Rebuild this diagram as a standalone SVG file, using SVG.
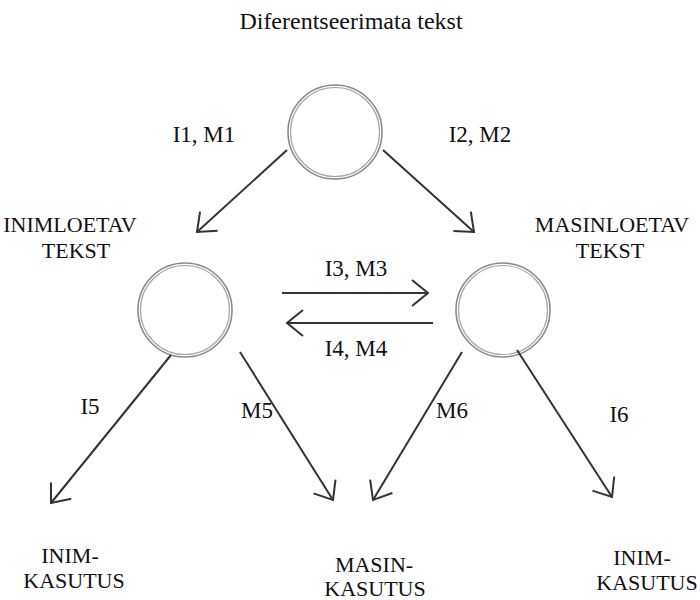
<svg xmlns="http://www.w3.org/2000/svg" width="700" height="600" viewBox="0 0 700 600" font-family="'Liberation Serif', 'DejaVu Serif', serif">
<style>
text{font-family:'Liberation Serif','DejaVu Serif',serif;font-size:22px;fill:#111;text-anchor:middle}
.title{font-size:24px}
.lbl{font-size:23px}
.ring1{fill:none;stroke:#8a8a8a;stroke-width:1.6}
.ring2{fill:none;stroke:#a8a8a8;stroke-width:1.2}
.arr{fill:none;stroke:#333;stroke-width:2;marker-end:url(#ah)}
</style>
<defs>
<marker id="ah" markerUnits="userSpaceOnUse" markerWidth="30" markerHeight="30" viewBox="-20 -15 22 30" refX="0" refY="0" orient="auto">
<path d="M-16,-13 L0,0 L-16,13" fill="none" stroke="#333" stroke-width="2"/>
</marker>
</defs>
<text class="title" x="351" y="29">Diferentseerimata tekst</text>
<g id="top">
<circle class="ring1" cx="335" cy="132" r="47"/>
<circle class="ring2" cx="335" cy="132" r="44.5"/>
</g>
<g id="left">
<circle class="ring1" cx="185" cy="310" r="47"/>
<circle class="ring2" cx="185" cy="310" r="44.5"/>
<text x="70" y="232">INIMLOETAV</text>
<text x="76" y="258">TEKST</text>
</g>
<g id="right">
<circle class="ring1" cx="503" cy="310" r="47"/>
<circle class="ring2" cx="503" cy="310" r="44.5"/>
<text x="612" y="232">MASINLOETAV</text>
<text x="610" y="258">TEKST</text>
</g>
<g id="use1"><text x="70" y="563">INIM-</text><text x="74" y="588">KASUTUS</text></g>
<g id="use2"><text x="374" y="572">MASIN-</text><text x="375" y="596">KASUTUS</text></g>
<g id="use3"><text x="642" y="565">INIM-</text><text x="647" y="590">KASUTUS</text></g>
<g id="connectors">
<line class="arr" x1="287" y1="150" x2="197" y2="232"/>
<line class="arr" x1="383" y1="150" x2="474" y2="232"/>
<line class="arr" x1="282" y1="293" x2="428" y2="293"/>
<line class="arr" x1="433" y1="323" x2="287" y2="323"/>
<line class="arr" x1="171" y1="355" x2="51" y2="503"/>
<line class="arr" x1="240" y1="352" x2="333" y2="500"/>
<line class="arr" x1="462" y1="352" x2="373" y2="500"/>
<line class="arr" x1="517" y1="350" x2="612" y2="497"/>
<text class="lbl" x="204" y="142">I1, M1</text>
<text class="lbl" x="480" y="142">I2, M2</text>
<text class="lbl" x="356" y="276">I3, M3</text>
<text class="lbl" x="356" y="356">I4, M4</text>
<text class="lbl" x="90" y="414">I5</text>
<text class="lbl" x="257" y="418">M5</text>
<text class="lbl" x="452" y="418">M6</text>
<text class="lbl" x="619" y="422">I6</text>
</g>
</svg>
